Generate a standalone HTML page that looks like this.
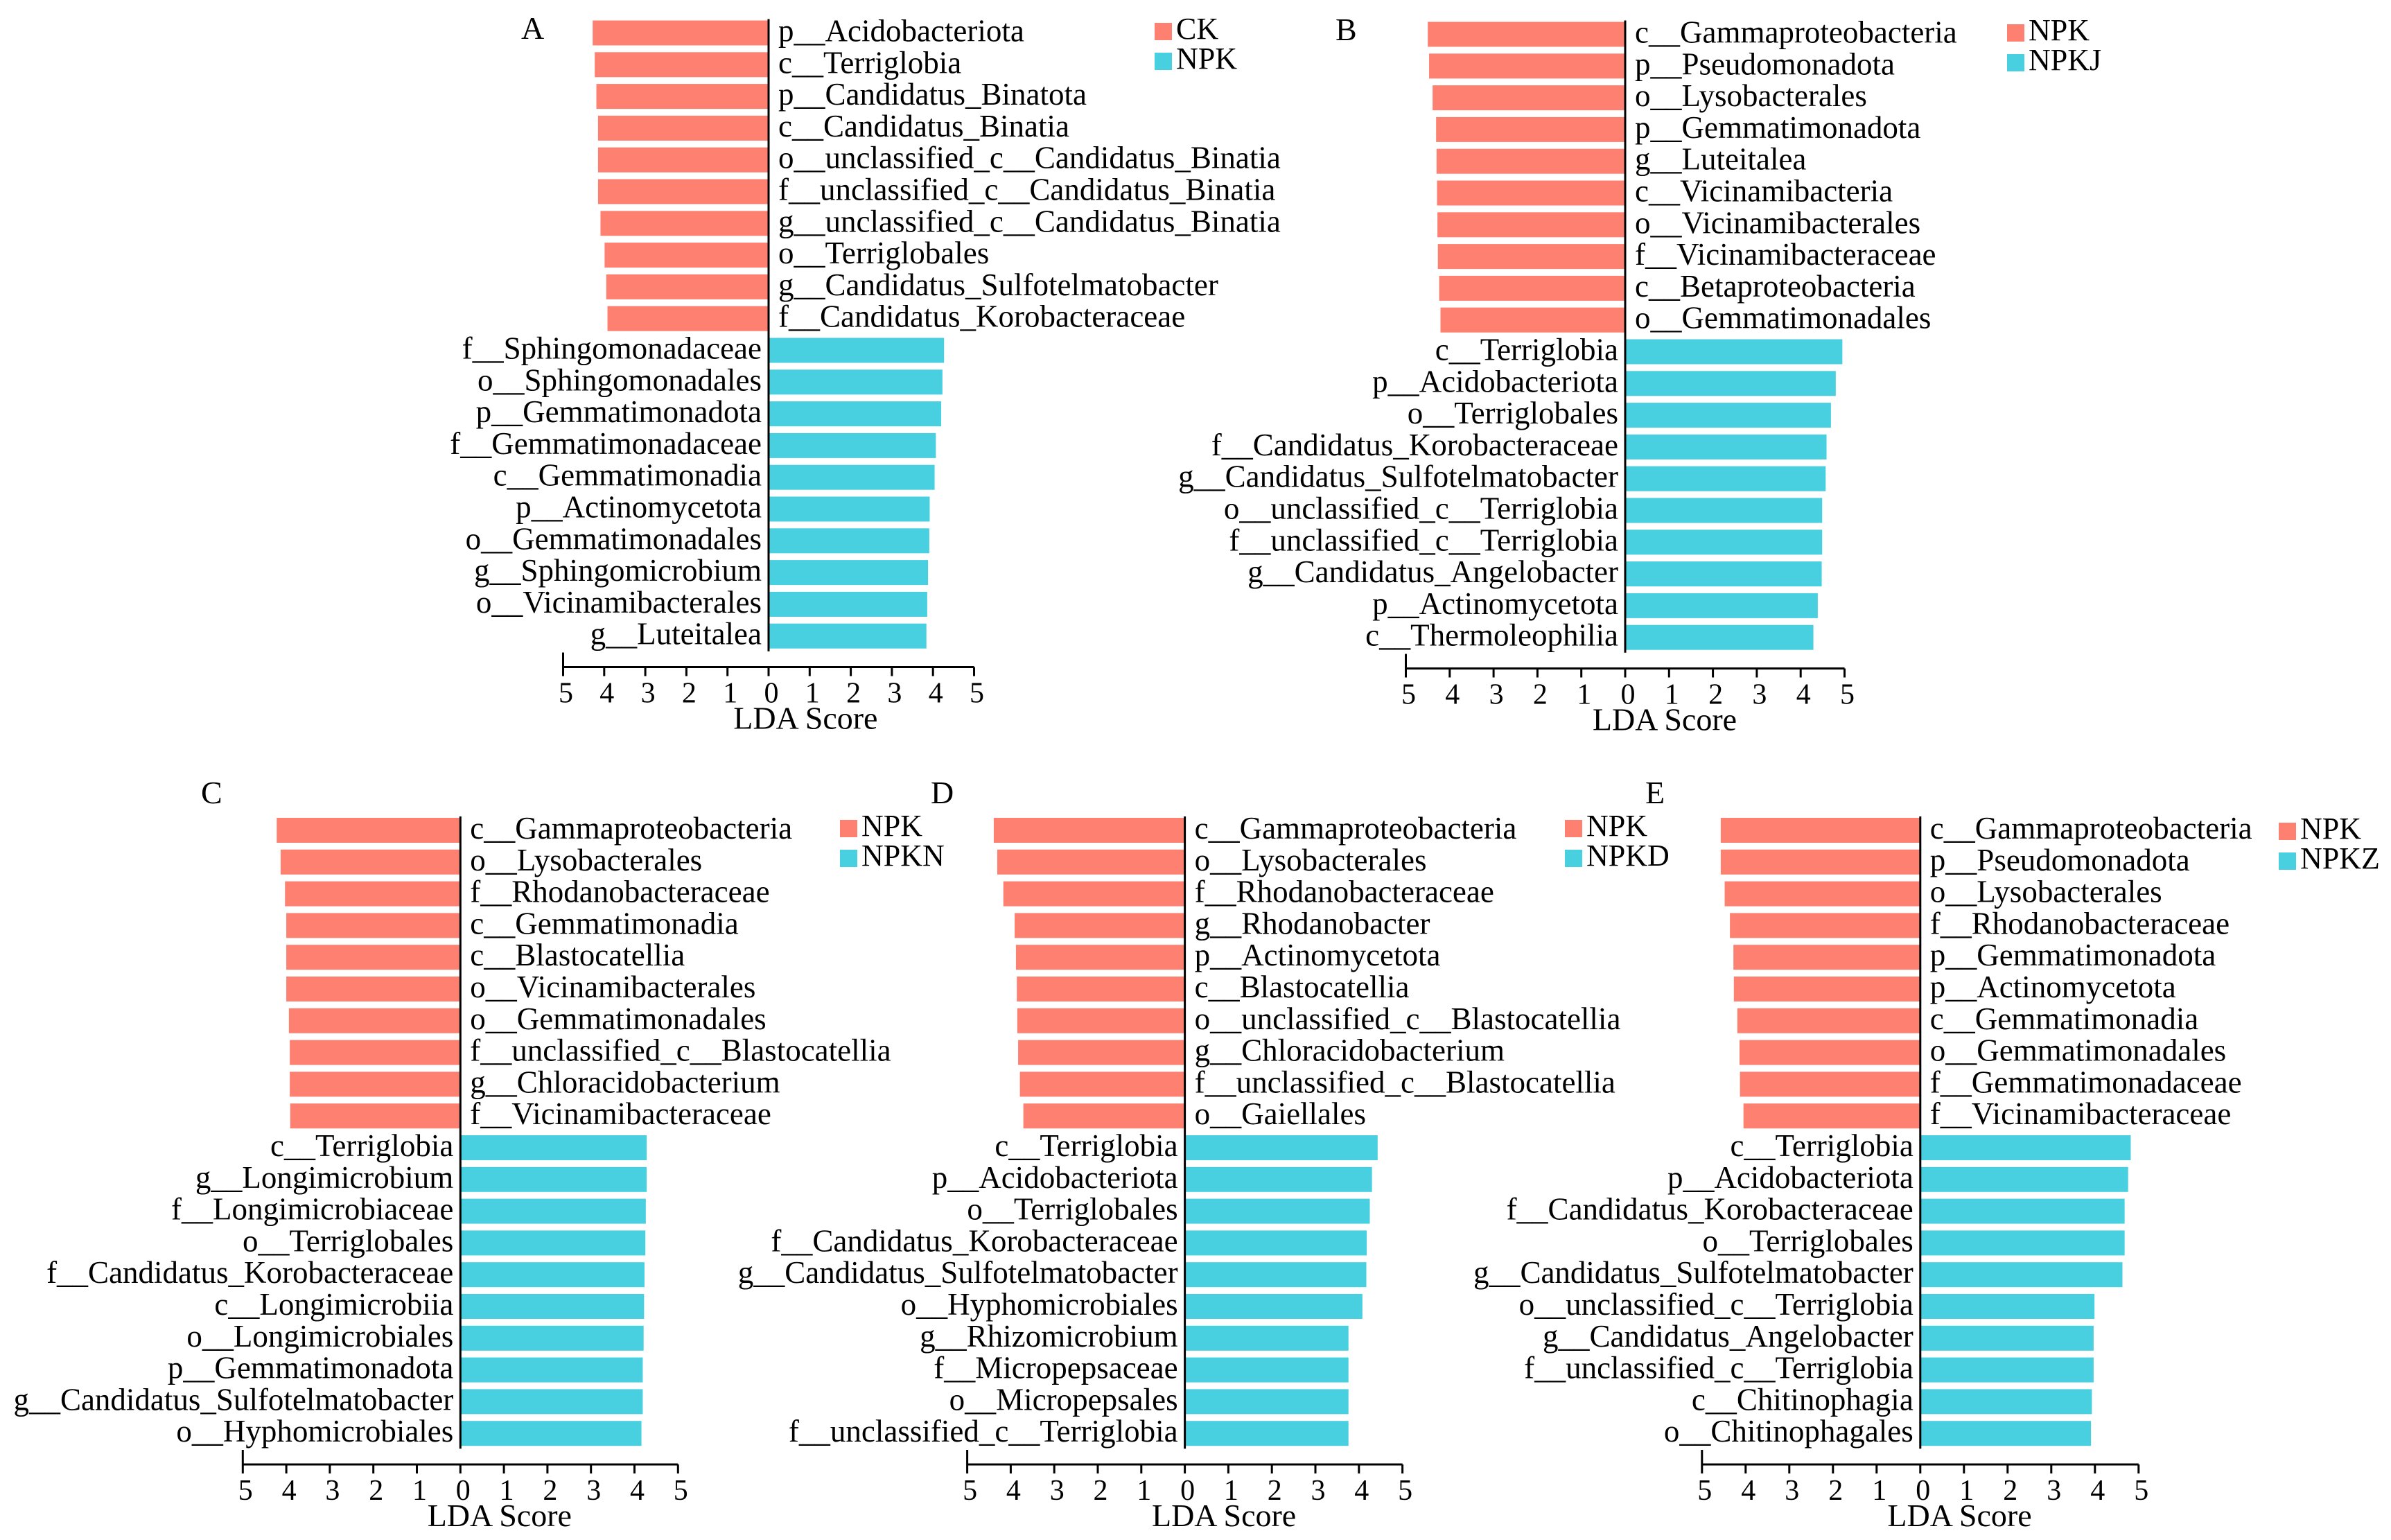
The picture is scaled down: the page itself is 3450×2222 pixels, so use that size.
<!DOCTYPE html>
<html><head><meta charset="utf-8">
<style>
html,body{margin:0;padding:0;background:#fff;}
svg{display:block;}
svg text{font-family:"Liberation Serif","DejaVu Serif",serif;fill:#000;}
</style></head>
<body>
<svg id="chart" width="3450" height="2222" viewBox="0 0 3450 2222" xmlns="http://www.w3.org/2000/svg" font-family="Liberation Serif, serif"></svg>
<script>
// ---- Panel A data ----
const labelsA_pos = ["p__Acidobacteriota","c__Terriglobia","p__Candidatus_Binatota","c__Candidatus_Binatia","o__unclassified_c__Candidatus_Binatia","f__unclassified_c__Candidatus_Binatia","g__unclassified_c__Candidatus_Binatia","o__Terriglobales","g__Candidatus_Sulfotelmatobacter","f__Candidatus_Korobacteraceae"];
const valuesA_pos = [4.28,4.23,4.19,4.15,4.15,4.15,4.09,3.99,3.95,3.92];
const labelsA_neg = ["f__Sphingomonadaceae","o__Sphingomonadales","p__Gemmatimonadota","f__Gemmatimonadaceae","c__Gemmatimonadia","p__Actinomycetota","o__Gemmatimonadales","g__Sphingomicrobium","o__Vicinamibacterales","g__Luteitalea"];
const valuesA_neg = [4.27,4.23,4.20,4.07,4.04,3.92,3.91,3.88,3.86,3.84];
const groupsA = ["CK","NPK"];
// ---- Panel B data ----
const labelsB_pos = ["c__Gammaproteobacteria","p__Pseudomonadota","o__Lysobacterales","p__Gemmatimonadota","g__Luteitalea","c__Vicinamibacteria","o__Vicinamibacterales","f__Vicinamibacteraceae","c__Betaproteobacteria","o__Gemmatimonadales"];
const valuesB_pos = [4.50,4.47,4.39,4.31,4.30,4.29,4.28,4.27,4.24,4.21];
const labelsB_neg = ["c__Terriglobia","p__Acidobacteriota","o__Terriglobales","f__Candidatus_Korobacteraceae","g__Candidatus_Sulfotelmatobacter","o__unclassified_c__Terriglobia","f__unclassified_c__Terriglobia","g__Candidatus_Angelobacter","p__Actinomycetota","c__Thermoleophilia"];
const valuesB_neg = [4.95,4.80,4.69,4.59,4.57,4.49,4.49,4.48,4.39,4.29];
const groupsB = ["NPK","NPKJ"];
// ---- Panel C data ----
const labelsC_pos = ["c__Gammaproteobacteria","o__Lysobacterales","f__Rhodanobacteraceae","c__Gemmatimonadia","c__Blastocatellia","o__Vicinamibacterales","o__Gemmatimonadales","f__unclassified_c__Blastocatellia","g__Chloracidobacterium","f__Vicinamibacteraceae"];
const valuesC_pos = [4.22,4.13,4.03,4.00,4.00,4.00,3.94,3.92,3.92,3.91];
const labelsC_neg = ["c__Terriglobia","g__Longimicrobium","f__Longimicrobiaceae","o__Terriglobales","f__Candidatus_Korobacteraceae","c__Longimicrobiia","o__Longimicrobiales","p__Gemmatimonadota","g__Candidatus_Sulfotelmatobacter","o__Hyphomicrobiales"];
const valuesC_neg = [4.28,4.28,4.26,4.25,4.23,4.22,4.21,4.19,4.19,4.16];
const groupsC = ["NPK","NPKN"];
// ---- Panel D data ----
const labelsD_pos = ["c__Gammaproteobacteria","o__Lysobacterales","f__Rhodanobacteraceae","g__Rhodanobacter","p__Actinomycetota","c__Blastocatellia","o__unclassified_c__Blastocatellia","g__Chloracidobacterium","f__unclassified_c__Blastocatellia","o__Gaiellales"];
const valuesD_pos = [4.39,4.31,4.17,3.91,3.88,3.86,3.85,3.83,3.79,3.71];
const labelsD_neg = ["c__Terriglobia","p__Acidobacteriota","o__Terriglobales","f__Candidatus_Korobacteraceae","g__Candidatus_Sulfotelmatobacter","o__Hyphomicrobiales","g__Rhizomicrobium","f__Micropepsaceae","o__Micropepsales","f__unclassified_c__Terriglobia"];
const valuesD_neg = [4.43,4.30,4.25,4.18,4.17,4.08,3.76,3.76,3.76,3.76];
const groupsD = ["NPK","NPKD"];
// ---- Panel E data ----
const labelsE_pos = ["c__Gammaproteobacteria","p__Pseudomonadota","o__Lysobacterales","f__Rhodanobacteraceae","p__Gemmatimonadota","p__Actinomycetota","c__Gemmatimonadia","o__Gemmatimonadales","f__Gemmatimonadaceae","f__Vicinamibacteraceae"];
const valuesE_pos = [4.57,4.57,4.48,4.36,4.28,4.27,4.19,4.14,4.13,4.05];
const labelsE_neg = ["c__Terriglobia","p__Acidobacteriota","f__Candidatus_Korobacteraceae","o__Terriglobales","g__Candidatus_Sulfotelmatobacter","o__unclassified_c__Terriglobia","g__Candidatus_Angelobacter","f__unclassified_c__Terriglobia","c__Chitinophagia","o__Chitinophagales"];
const valuesE_neg = [4.82,4.76,4.68,4.68,4.63,3.99,3.97,3.97,3.93,3.91];
const groupsE = ["NPK","NPKZ"];
const ticks = [5,4,3,2,1,0,1,2,3,4,5];

const NS = "http://www.w3.org/2000/svg";
const svg = document.getElementById("chart");
const C1 = "#fd8071", C2 = "#48cfe0";
const FS = 45;
const FF = '"Liberation Serif", "DejaVu Serif", serif';

function mk(tag, attrs, parent){
  const e = document.createElementNS(NS, tag);
  for (const k in attrs) e.setAttribute(k, attrs[k]);
  if (tag === "text") e.style.fontFamily = FF;
  (parent||svg).appendChild(e);
  return e;
}

function panel(id, cfg, lp, vp, ln, vn, groups){
  const g = mk("g", {});
  
  
  const x = v => cfg.zero + v * cfg.unit;
  const pitch = 45.8, bh = 36;
  const rowY = i => cfg.top + i * pitch;
  const pl = mk("text", {x: cfg.lx, y: cfg.ly, "font-size": 46}, g);
  pl.textContent = id;
  
  
  lp.forEach((lab, i) => {
    const r = mk("rect", {x: x(-vp[i]), y: rowY(i), width: x(0) - x(-vp[i]), height: bh, fill: C1}, g);
    
    
    const t = mk("text", {x: cfg.zero + 14, y: rowY(i) + bh/2 + 12, "font-size": FS}, g);
    t.textContent = lab;
    
    
  });
  ln.forEach((lab, i) => {
    const j = i + lp.length;
    const r = mk("rect", {x: x(0), y: rowY(j), width: x(vn[i]) - x(0), height: bh, fill: C2}, g);
    
    
    const t = mk("text", {x: cfg.zero - 10, y: rowY(j) + bh/2 + 12, "font-size": FS, "text-anchor": "end"}, g);
    t.textContent = lab;
    
    
  });
  const n = lp.length + ln.length;
  const zl = mk("line", {x1: cfg.zero, x2: cfg.zero, y1: cfg.top - 2, y2: rowY(n-1) + bh + 4, stroke: "#000", "stroke-width": 3}, g);
  
  
  const ay = cfg.top + 933;
  const ax = mk("line", {x1: x(-5), x2: x(5), y1: ay, y2: ay, stroke: "#000", "stroke-width": 3}, g);
  
  
  const lt = mk("line", {x1: x(-5), x2: x(-5), y1: ay - 21, y2: ay, stroke: "#000", "stroke-width": 3}, g);
  
  
  ticks.forEach((tv, k) => {
    const v = k - 5;
    const tk = mk("line", {x1: x(v), x2: x(v), y1: ay, y2: ay + 13, stroke: "#000", "stroke-width": 3}, g);
    
    
    const tl = mk("text", {x: x(v) + 4, y: ay + 51, "font-size": 42, "text-anchor": "middle"}, g);
    tl.textContent = tv;
    
    
  });
  const at = mk("text", {x: x(0.9), y: ay + 89, "font-size": 46, "text-anchor": "middle"}, g);
  at.textContent = "LDA Score";
  
  
  [C1, C2].forEach((c, k) => {
    const sq = mk("rect", {x: cfg.gx, y: cfg.gy + k * 43, width: 25, height: 25, fill: c}, g);
    
    
    const tt = mk("text", {x: cfg.gx + 31, y: cfg.gy + 23 + k * 43, "font-size": 44}, g);
    tt.textContent = groups[k];
    
    
  });
}

panel("A", {zero:1109, unit:59.3, top:29.5, lx:752, ly:56, gx:1666, gy:33}, labelsA_pos, valuesA_pos, labelsA_neg, valuesA_neg, groupsA);
panel("B", {zero:2345, unit:63.3, top:31.5, lx:1927, ly:58, gx:2896, gy:35}, labelsB_pos, valuesB_pos, labelsB_neg, valuesB_neg, groupsB);
panel("C", {zero:664.3, unit:62.8, top:1180, lx:290, ly:1159, gx:1212, gy:1183}, labelsC_pos, valuesC_pos, labelsC_neg, valuesC_neg, groupsC);
panel("D", {zero:1709.6, unit:62.8, top:1180, lx:1343, ly:1159, gx:2258, gy:1183}, labelsD_pos, valuesD_pos, labelsD_neg, valuesD_neg, groupsD);
panel("E", {zero:2770.8, unit:63, top:1180, lx:2374, ly:1159, gx:3288, gy:1187}, labelsE_pos, valuesE_pos, labelsE_neg, valuesE_neg, groupsE);
</script>
</body></html>
